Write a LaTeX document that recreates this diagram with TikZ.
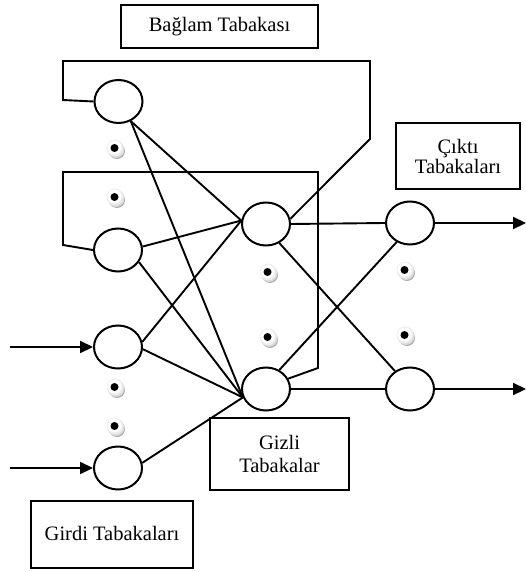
\documentclass[tikz,border=0pt]{standalone}
\usepackage{fontspec}
\setmainfont{Liberation Serif}
\usetikzlibrary{shapes.geometric,arrows.meta}
\begin{document}
\begin{tikzpicture}[x=1pt,y=-1pt,
  neuron/.style={draw,ellipse,line width=2pt,minimum width=48pt,minimum height=43pt,inner sep=0pt},
  lbl/.style={draw,line width=2pt,align=center,inner sep=0pt,font=\fontsize{20.5}{23}\selectfont,fill=white},
  wire/.style={line width=1.9pt,line join=miter},
  arr/.style={line width=2.2pt,-{Triangle[length=13pt,width=12pt]}},
  bdot/.pic={\fill[gray!65] (2,3) circle (8pt);
             \fill[gray!30] (1,1.5) circle (8.5pt);
             \fill[gray!15] (0,0) circle (8.5pt);
             \fill[white] (-0.5,-0.5) circle (7pt);
             \fill[black] (-0.5,0) circle (4pt);}
]
\useasboundingbox (0,0) rectangle (526,572);

% labels
\node[lbl,minimum width=197pt,minimum height=43pt] (bag) at (219.5,26.5) {Bağlam Tabakası};
\node[lbl,minimum width=124pt,minimum height=66pt,font=\fontsize{20.5}{20}\selectfont] (cik) at (458,156) {Çıktı\\Tabakaları};
\node[lbl,minimum width=162pt,minimum height=67pt] (gir) at (112,534.5) {\raisebox{3pt}{Girdi Tabakaları}};

% neurons
\node[neuron] (c1) at (118.5,101.5) {};
\node[neuron] (c2) at (118,250) {};
\node[neuron] (i1) at (118,347) {};
\node[neuron] (i2) at (118,468) {};
\node[neuron] (h1) at (266,224) {};
\node[neuron] (h2) at (266,389) {};
\node[neuron] (o1) at (410,223) {};
\node[neuron] (o2) at (410,389) {};

% loop corners
\coordinate (a1) at (370,139);
\coordinate (a2) at (370,61);
\coordinate (a3) at (63,61);
\coordinate (a4) at (63,100);
\coordinate (b1) at (318,368);
\coordinate (b2) at (318,172);
\coordinate (b3) at (63,172);
\coordinate (b4) at (63,245);

% input / output free ends
\coordinate (in1) at (10,347);
\coordinate (in2) at (10,468);
\coordinate (out1) at (526,223);
\coordinate (out2) at (526,389);

% context loops
\draw[wire] (h1.12) -- (a1) -- (a2) -- (a3) -- (a4) -- (c1.west);
\draw[wire] (h2.25) -- (b1) -- (b2) -- (b3) -- (b4) -- (c2.west);

% to hidden
\draw[wire] (c1.-58) -- (h1.172);
\draw[wire] (c1.-58) -- (h2.200);
\draw[wire] (c2.8) -- (h1.172);
\draw[wire] (c2.-30) -- (h2.200);
\draw[wire] (i1.12) -- (h1.172);
\draw[wire] (i1.-5) -- (h2.200);
\draw[wire] (i2.12) -- (h2.200);

% hidden to output
\draw[wire] (h1.east) -- (o1.west);
\draw[wire] (h1.-55) -- (o2.130);
\draw[wire] (h2.55) -- (o1.-125);
\draw[wire] (h2.east) -- (o2.west);

% arrows
\draw[arr] (in1) -- (i1.west);
\draw[arr] (in2) -- (i2.west);
\draw[arr] (o1.east) -- (out1);
\draw[arr] (o2.east) -- (out2);

\node[lbl,minimum width=139pt,minimum height=72pt] (giz) at (279.5,454) {Gizli\\Tabakalar};

% dots
\pic at (115,148) {bdot};
\pic at (115,197) {bdot};
\pic at (115,387) {bdot};
\pic at (115,426) {bdot};
\pic at (268,272) {bdot};
\pic at (268,337) {bdot};
\pic at (405,270) {bdot};
\pic at (405,335) {bdot};
\end{tikzpicture}
\end{document}
